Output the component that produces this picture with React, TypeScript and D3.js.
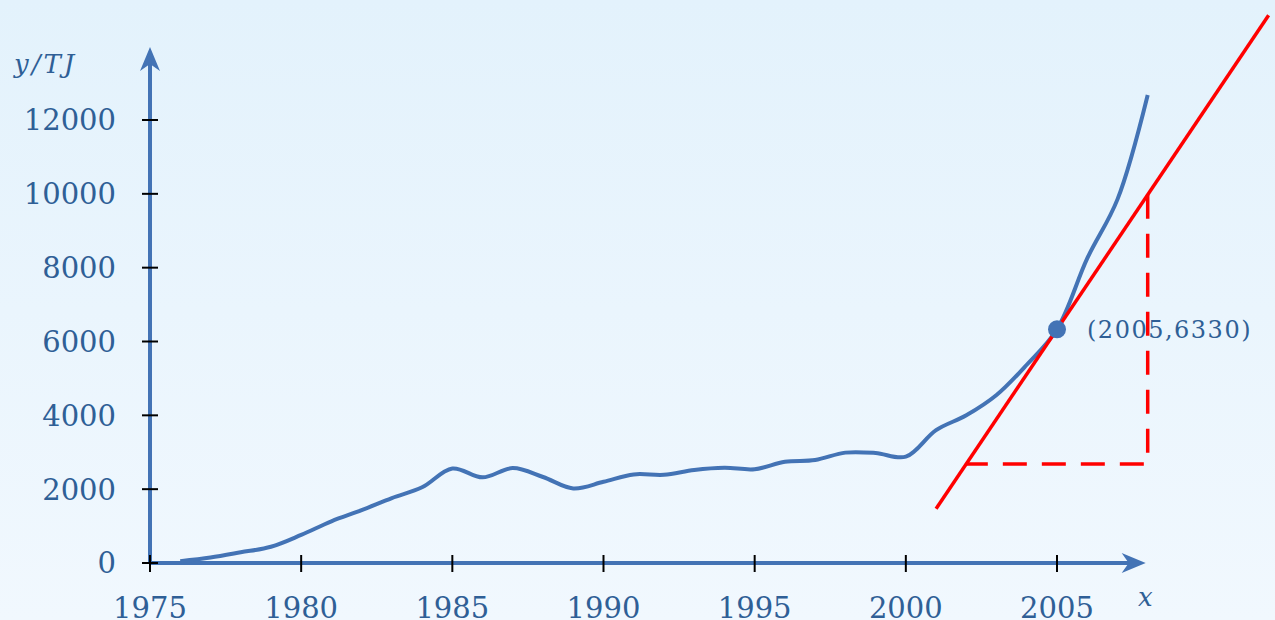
import React, { useEffect, useRef } from 'react';
import * as d3 from 'd3';

const WIDTH = 1275;
const HEIGHT = 620;

// energy use over the years (TJ)
const years = [1976, 1977, 1978, 1979, 1980, 1981, 1982, 1983, 1984, 1985, 1986, 1987, 1988, 1989, 1990, 1991,
  1992, 1993, 1994, 1995, 1996, 1997, 1998, 1999, 2000, 2001, 2002, 2003, 2004, 2005, 2006, 2007, 2008];
const energy = [50, 150, 290, 440, 760, 1130, 1430, 1760, 2050, 2560, 2320, 2570, 2330, 2020, 2200, 2400,
  2390, 2520, 2580, 2540, 2740, 2790, 2990, 2980, 2880, 3600, 4000, 4550, 5370, 6330, 8250, 9850, 12680];

const xTicks = [1975, 1980, 1985, 1990, 1995, 2000, 2005];
const yTicks = [0, 2000, 4000, 6000, 8000, 10000, 12000];

const pointYear = 2005;
const pointValue = 6330;
const tangentSlope = 1215;
const tangentYears = [2001, 2012];
const triangleYears = [2002, 2008];

const BLUE = '#4373b5';
const TEXT = '#2f5f96';
const RED = '#ff0000';
const SERIF = '"DejaVu Serif", "Liberation Serif", serif';

const App = () => {
  const svgRef = useRef<SVGSVGElement | null>(null);

  useEffect(() => {
    if (!svgRef.current) return;
    const svg = d3.select(svgRef.current);
    svg.selectAll('*').remove();

    const x = d3.scaleLinear().domain([1975, 2005]).range([150, 1057]);
    const y = d3.scaleLinear().domain([0, 12000]).range([563, 120]);

    // background gradient
    const defs = svg.append('defs');
    const grad = defs.append('linearGradient')
      .attr('id', 'bg')
      .attr('x1', 0).attr('y1', 0).attr('x2', 0).attr('y2', 1);
    grad.append('stop').attr('offset', '0%').attr('stop-color', '#e3f2fc');
    grad.append('stop').attr('offset', '100%').attr('stop-color', '#f1f8fe');
    svg.append('rect').attr('width', WIDTH).attr('height', HEIGHT).attr('fill', 'url(#bg)');

    const x0 = x(1975);
    const y0 = y(0);
    const xEnd = x(2008) - 2;
    const yEnd = 47;

    // axes
    svg.append('line')
      .attr('x1', x0).attr('x2', xEnd - 8)
      .attr('y1', y0).attr('y2', y0)
      .attr('stroke', BLUE).attr('stroke-width', 4);
    svg.append('line')
      .attr('x1', x0).attr('x2', x0)
      .attr('y1', y0).attr('y2', yEnd + 8)
      .attr('stroke', BLUE).attr('stroke-width', 4);

    // arrow heads
    svg.append('path')
      .attr('d', `M${xEnd},${y0} L${xEnd - 24},${y0 - 10} L${xEnd - 17},${y0} L${xEnd - 24},${y0 + 10} Z`)
      .attr('fill', BLUE);
    svg.append('path')
      .attr('d', `M${x0},${yEnd} L${x0 - 10},${yEnd + 24} L${x0},${yEnd + 17} L${x0 + 10},${yEnd + 24} Z`)
      .attr('fill', BLUE);

    // ticks
    svg.append('g')
      .selectAll('line')
      .data(xTicks)
      .enter()
      .append('line')
      .attr('x1', d => x(d)).attr('x2', d => x(d))
      .attr('y1', y0 - 8).attr('y2', y0 + 9)
      .attr('stroke', '#000').attr('stroke-width', 2);

    svg.append('g')
      .selectAll('line')
      .data(yTicks)
      .enter()
      .append('line')
      .attr('x1', x0 - 8).attr('x2', x0 + 8)
      .attr('y1', d => y(d)).attr('y2', d => y(d))
      .attr('stroke', '#000').attr('stroke-width', 2);

    // tick labels
    svg.append('g')
      .selectAll('text')
      .data(xTicks)
      .enter()
      .append('text')
      .attr('x', d => x(d))
      .attr('y', 618)
      .attr('text-anchor', 'middle')
      .attr('fill', TEXT)
      .attr('font-family', SERIF)
      .attr('font-size', 29)
      .text(d => d);

    svg.append('g')
      .selectAll('text')
      .data(yTicks)
      .enter()
      .append('text')
      .attr('x', 116)
      .attr('y', d => y(d))
      .attr('dy', '0.36em')
      .attr('text-anchor', 'end')
      .attr('fill', TEXT)
      .attr('font-family', SERIF)
      .attr('font-size', 29)
      .text(d => d);

    // axis titles
    svg.append('text')
      .attr('x', 14).attr('y', 73)
      .attr('fill', TEXT)
      .attr('font-family', SERIF)
      .attr('font-style', 'italic')
      .attr('font-size', 26)
      .attr('letter-spacing', 3)
      .text('y/TJ');

    svg.append('text')
      .attr('x', 1138).attr('y', 606)
      .attr('fill', TEXT)
      .attr('font-family', SERIF)
      .attr('font-style', 'italic')
      .attr('font-size', 26)
      .text('x');

    // energy curve
    const line = d3.line<number>()
      .x((d, i) => x(years[i]))
      .y(d => y(d))
      .curve(d3.curveCatmullRom.alpha(0.5));

    svg.append('path')
      .datum(energy)
      .attr('d', line)
      .attr('fill', 'none')
      .attr('stroke', BLUE)
      .attr('stroke-width', 4);

    // slope triangle
    const tangentAt = (yr: number) => pointValue + tangentSlope * (yr - pointYear);
    const [ta, tb] = triangleYears;
    svg.append('path')
      .attr('d', `M${x(tb)},${y(tangentAt(tb))} L${x(tb)},${y(tangentAt(ta))} L${x(ta)},${y(tangentAt(ta))}`)
      .attr('fill', 'none')
      .attr('stroke', RED)
      .attr('stroke-width', 3.5)
      .attr('stroke-dasharray', '24 15');

    // tangent line
    svg.append('line')
      .attr('x1', x(tangentYears[0])).attr('y1', y(tangentAt(tangentYears[0])))
      .attr('x2', x(tangentYears[1])).attr('y2', y(tangentAt(tangentYears[1])))
      .attr('stroke', RED)
      .attr('stroke-width', 3.5);

    // point of tangency
    svg.append('circle')
      .attr('cx', x(pointYear)).attr('cy', y(pointValue))
      .attr('r', 9)
      .attr('fill', BLUE);

    svg.append('text')
      .attr('x', x(pointYear) + 30).attr('y', y(pointValue))
      .attr('dy', '0.36em')
      .attr('fill', TEXT)
      .attr('font-family', SERIF)
      .attr('font-size', 24)
      .attr('letter-spacing', 1.5)
      .text(`(${pointYear},${pointValue})`);
  }, []);

  return (
    <div style={{ position: 'fixed', left: 0, top: 0 }}>
      <svg ref={svgRef} width={WIDTH} height={HEIGHT} style={{ display: 'block' }} />
    </div>
  );
};

export default App;
